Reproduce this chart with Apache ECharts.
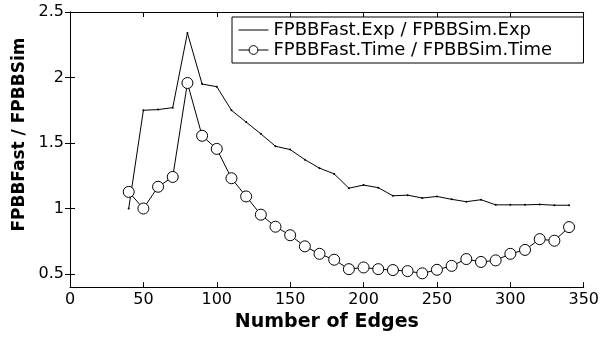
<!DOCTYPE html>
<html>
<head>
<meta charset="utf-8">
<script src="https://cdn.jsdelivr.net/npm/echarts@6/dist/echarts.min.js"></script>
<style>
  html, body { margin: 0; padding: 0; background: #fff; }
  #chart { width: 602px; height: 337px; }
</style>
</head>
<body>
<div id="chart"></div>
<script>
const edges = [40, 50, 60, 70, 80, 90, 100, 110, 120, 130, 140, 150, 160, 170, 180, 190,
  200, 210, 220, 230, 240, 250, 260, 270, 280, 290, 300, 310, 320, 330, 340];
const expRatio = [1.0, 1.75, 1.755, 1.77, 2.34, 1.95, 1.93, 1.75, 1.66, 1.57, 1.475, 1.45, 1.373, 1.308, 1.264, 1.155,
  1.179, 1.159, 1.097, 1.102, 1.08, 1.092, 1.07, 1.052, 1.067, 1.028, 1.028, 1.028, 1.031, 1.025, 1.025];
const timeRatio = [1.127, 1.0, 1.166, 1.241, 1.958, 1.555, 1.455, 1.231, 1.092, 0.953, 0.861, 0.796, 0.711, 0.654, 0.609, 0.537,
  0.55, 0.537, 0.53, 0.522, 0.505, 0.532, 0.562, 0.614, 0.592, 0.604, 0.654, 0.684, 0.766, 0.754, 0.858];
const yTicks = [0.5, 1, 1.5, 2, 2.5];
const seriesNames = ["FPBBFast.Exp / FPBBSim.Exp", "FPBBFast.Time / FPBBSim.Time"];

const font = "DejaVu Sans";
const chart = echarts.init(document.getElementById("chart"));

// matlab style: black frame, ticks pointing inward on all four sides
const frameLine = { show: true, lineStyle: { color: "#000", width: 1 } };
const tick = { show: true, inside: true, length: 5, lineStyle: { color: "#000" } };

chart.setOption({
  animation: false,
  grid: { left: 70, right: 14, top: 12, bottom: 44 },
  legend: {
    orient: "vertical",
    left: 232,
    top: 17,
    width: 310,
    padding: [3, 30, 3, 6],
    itemGap: 0,
    itemWidth: 30,
    itemHeight: 11,
    borderColor: "#000",
    borderWidth: 1,
    backgroundColor: "#fff",
    lineStyle: { width: 1 },
    textStyle: { fontFamily: font, fontSize: 18, color: "#000", lineHeight: 20, width: 280 },
    data: [
      { name: seriesNames[0], itemStyle: { opacity: 0 } },
      { name: seriesNames[1], itemStyle: { borderWidth: 1 } }
    ]
  },
  xAxis: [
    {
      type: "value", min: 0, max: 350, interval: 50,
      name: "Number of Edges", nameLocation: "middle", nameGap: 23,
      nameTextStyle: { fontFamily: font, fontSize: 19, fontWeight: "bold", color: "#000" },
      axisLabel: { fontFamily: font, fontSize: 16, color: "#000", margin: 5 },
      axisLine: frameLine, axisTick: tick, splitLine: { show: false }
    },
    {
      type: "value", min: 0, max: 350, interval: 50, position: "top",
      axisLabel: { show: false },
      axisLine: frameLine, axisTick: tick, splitLine: { show: false }
    }
  ],
  yAxis: [
    {
      type: "value", min: 0.4, max: 2.5,
      name: "FPBBFast / FPBBSim", nameLocation: "middle", nameGap: 42,
      nameTextStyle: { fontFamily: font, fontSize: 17, fontWeight: "bold", color: "#000", padding: [0, 0, 0, 30] },
      axisLabel: { fontFamily: font, fontSize: 16, color: "#000", margin: 6, customValues: yTicks },
      axisTick: Object.assign({ customValues: yTicks }, tick),
      axisLine: frameLine, splitLine: { show: false }
    },
    {
      type: "value", min: 0.4, max: 2.5, position: "right",
      axisLabel: { show: false, customValues: yTicks },
      axisTick: Object.assign({ customValues: yTicks }, tick),
      axisLine: frameLine, splitLine: { show: false }
    }
  ],
  series: [
    {
      name: seriesNames[0],
      type: "line",
      data: edges.map((e, i) => [e, expRatio[i]]),
      symbol: "circle",
      symbolSize: 2,
      itemStyle: { color: "#000" },
      lineStyle: { color: "#000", width: 1 }
    },
    {
      name: seriesNames[1],
      type: "line",
      data: edges.map((e, i) => [e, timeRatio[i]]),
      symbol: "circle",
      symbolSize: 11,
      itemStyle: { color: "#fff", borderColor: "#000", borderWidth: 1 },
      lineStyle: { color: "#000", width: 1 }
    }
  ]
});
</script>
</body>
</html>
